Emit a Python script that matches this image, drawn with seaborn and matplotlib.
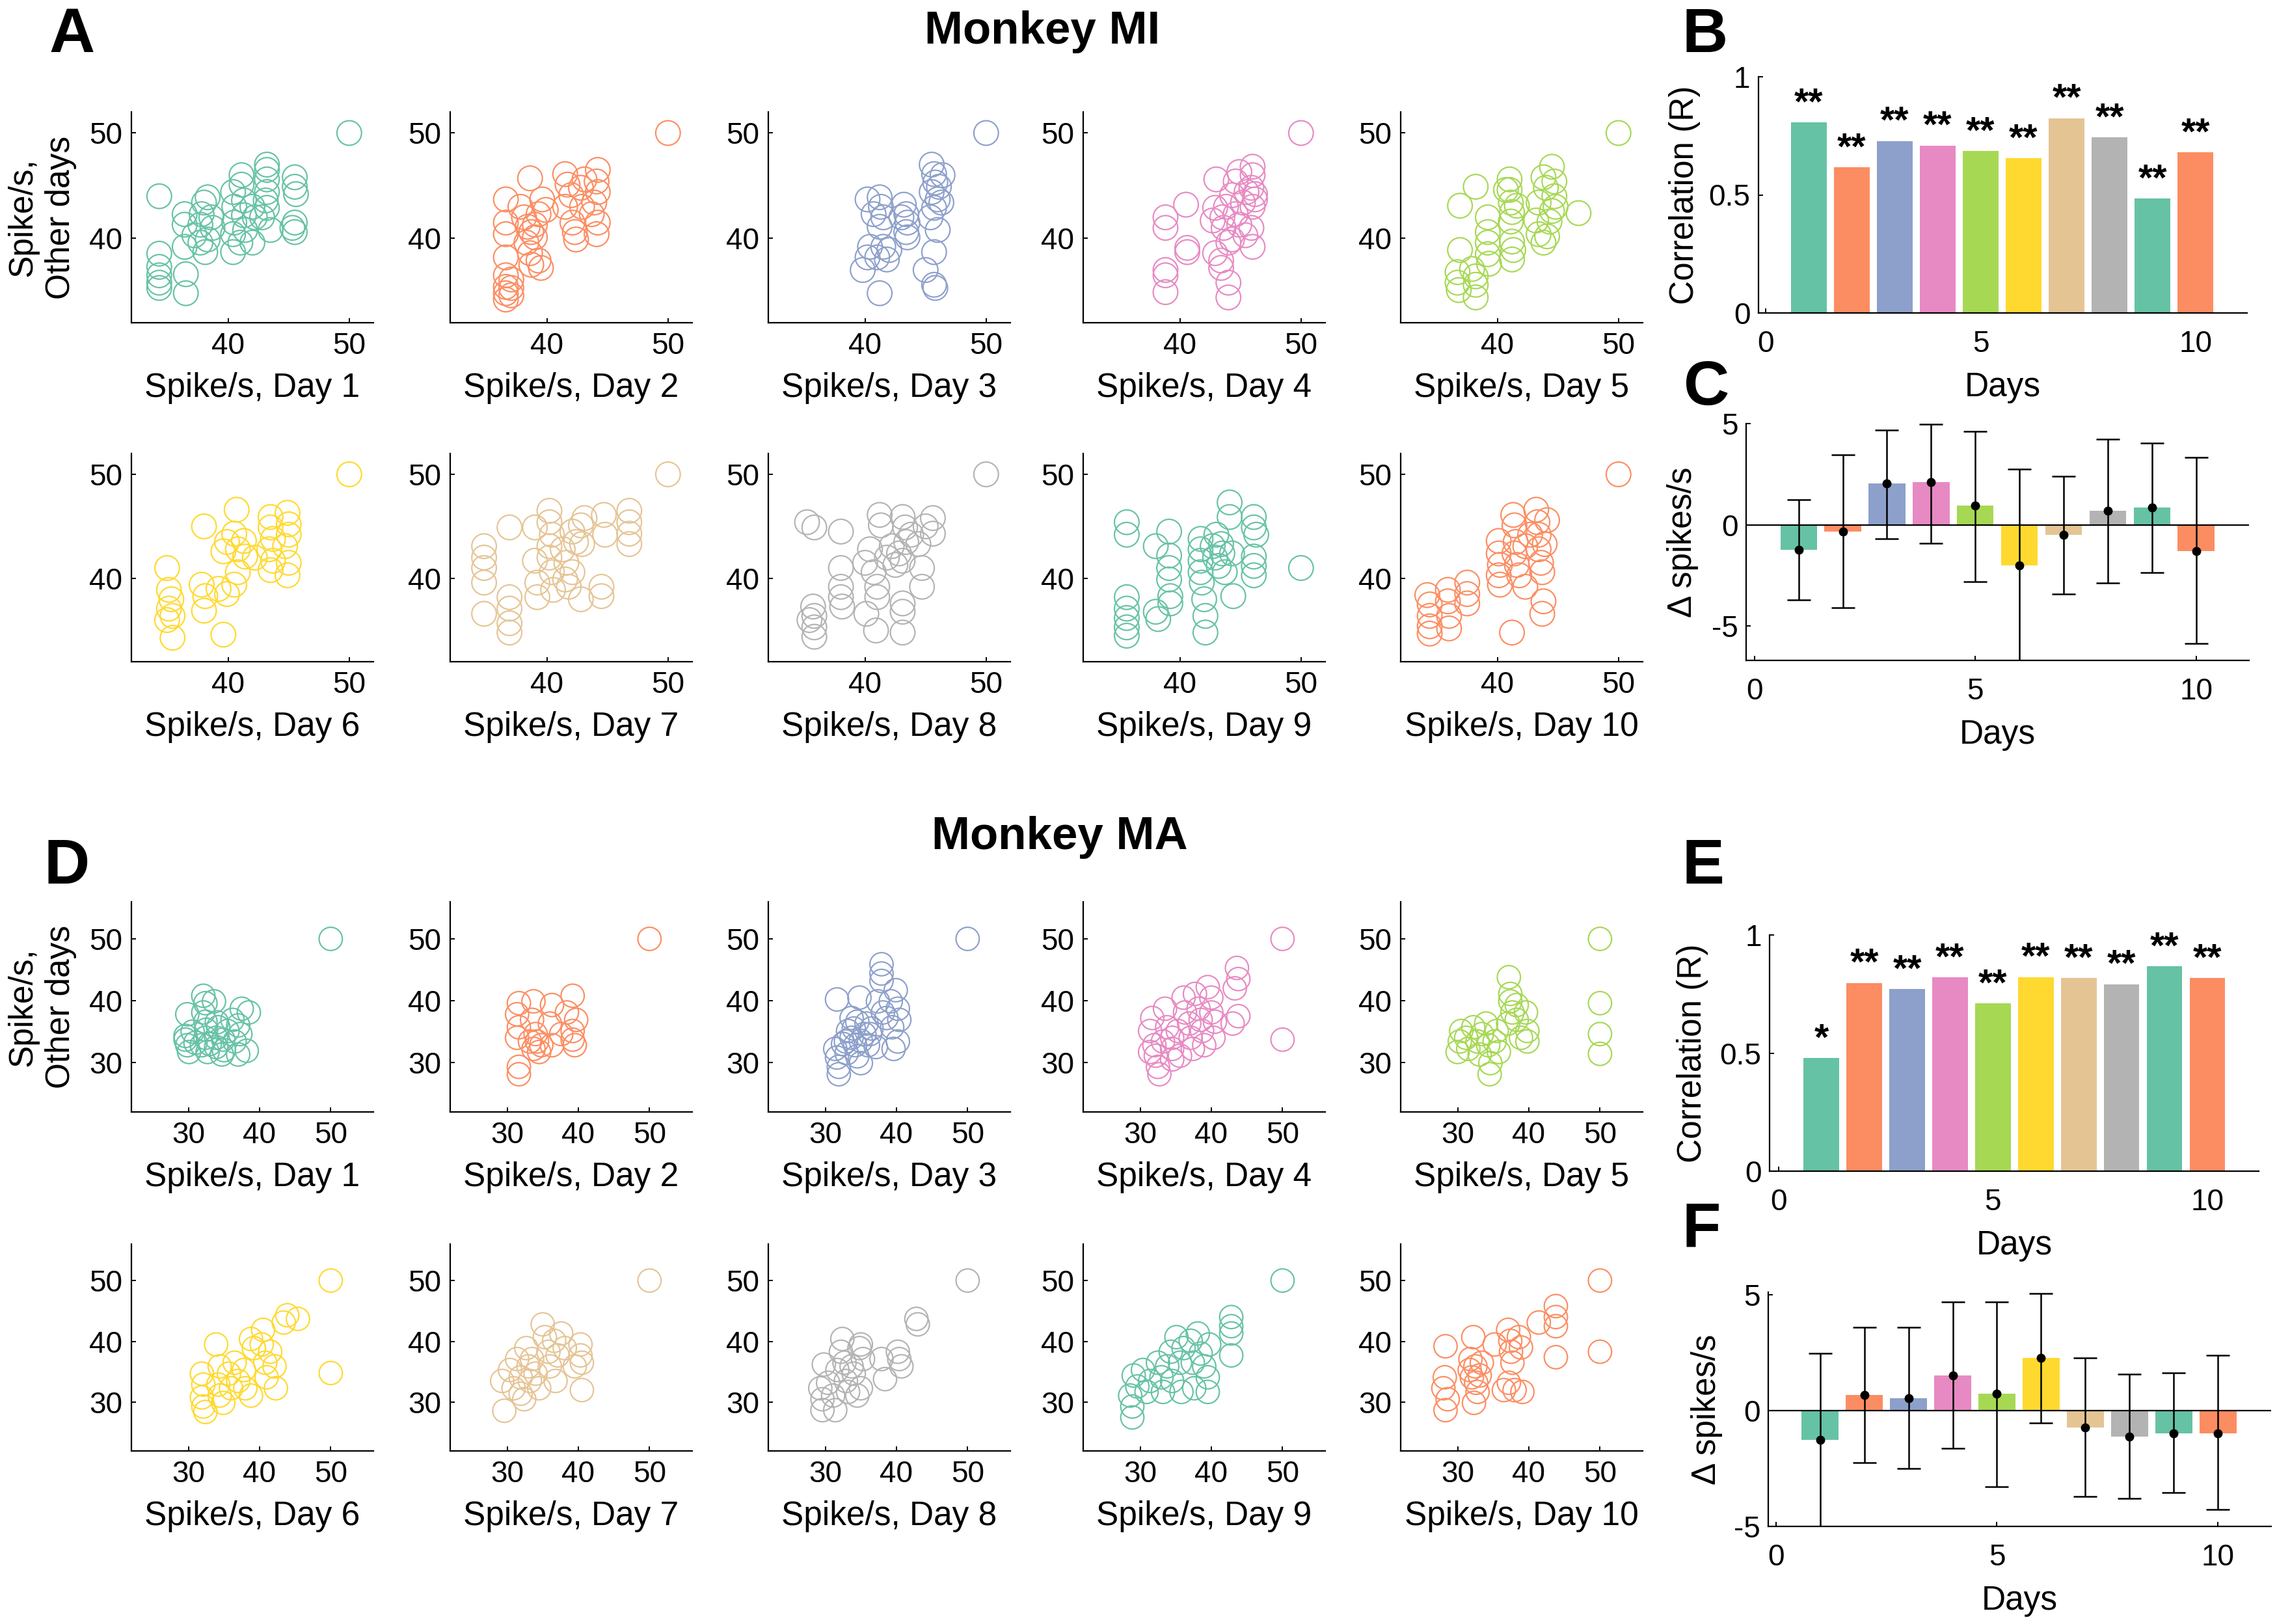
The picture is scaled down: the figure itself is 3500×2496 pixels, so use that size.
import numpy as np
import pandas as pd
import matplotlib
matplotlib.use("Agg")
import matplotlib.pyplot as plt
import seaborn as sns

# ------------------------------------------------------------------ data
DAYS = list(range(1, 11))

# Panel B / E : correlation per day
MI_R = [0.806, 0.617, 0.728, 0.709, 0.685, 0.656, 0.825, 0.744, 0.485, 0.680]
MI_SIG = ["**", "**", "**", "**", "**", "**", "**", "**", "**", "**"]
MA_R = [0.478, 0.797, 0.771, 0.820, 0.711, 0.822, 0.818, 0.792, 0.867, 0.818]
MA_SIG = ["*", "**", "**", "**", "**", "**", "**", "**", "**", "**"]

# Panel C / F : delta spikes/s (mean, lower and upper end of error bar)
MI_DELTA = [-1.22, -0.34, 2.03, 2.10, 0.95, -2.02, -0.50, 0.70, 0.85, -1.29]
MI_DELTA_LO = [-3.72, -4.10, -0.68, -0.90, -2.82, -6.80, -3.41, -2.87, -2.37, -5.87]
MI_DELTA_HI = [1.24, 3.45, 4.67, 4.97, 4.63, 2.75, 2.41, 4.22, 4.04, 3.34]
MA_DELTA = [-1.27, 0.67, 0.54, 1.52, 0.71, 2.28, -0.73, -1.12, -0.98, -0.98]
MA_DELTA_LO = [-5.00, -2.24, -2.49, -1.63, -3.29, -0.54, -3.72, -3.78, -3.55, -4.26]
MA_DELTA_HI = [2.47, 3.59, 3.59, 4.67, 4.67, 5.05, 2.28, 1.57, 1.61, 2.39]

# Panel A : Monkey MI scatter (x = spike/s on that day, y = other days)
mi_x1 = [34.3, 34.3, 34.3, 34.3, 34.3, 34.3, 36.5, 36.5, 36.4, 36.4, 36.4, 37.2, 37.7, 37.8, 38.0, 38.3, 37.7, 38.1, 38.6, 38.7, 38.3,
         40.4, 40.5, 40.5, 40.4, 40.4, 41.1, 41.1, 41.3, 41.3, 41.4, 41.0, 42.0, 42.0, 42.2,
         43.2, 43.2, 43.2, 43.2, 43.1, 43.2, 43.5, 42.8, 45.5, 45.5, 45.6, 45.5, 45.5, 45.3, 50]
mi_y1 = [44.0, 38.55, 37.3, 36.5, 35.8, 35.3, 36.6, 34.8, 42.3, 41.3, 39.2, 40.3, 41.3, 42.3, 43.4, 43.9, 39.6, 38.7, 42.0, 41.0, 39.9,
         44.4, 43.0, 41.5, 40.4, 38.7, 46.0, 45.1, 43.6, 42.2, 40.8, 39.6, 43.0, 39.6, 42.0,
         47.0, 46.5, 45.6, 44.4, 43.6, 42.9, 40.8, 42.0, 45.8, 44.9, 44.2, 41.5, 40.6, 41.0, 50]
mi_x2 = [36.6, 36.6, 36.6, 36.6, 36.6, 36.6, 36.6, 36.6, 37.05, 37.05, 37.05, 38.6,
         37.8, 38.1, 38.4, 38.7, 39.0, 39.3, 39.6, 38.3, 38.6, 39.3, 39.5, 38.7, 39.0, 39.9,
         41.5, 41.7, 42.0, 41.5, 42.1, 42.3, 42.4, 42.8, 42.9, 43.1, 44.2, 44.1, 44.2, 43.9, 44.2, 44.1, 43.7, 50]
mi_y2 = [43.7, 41.5, 40.4, 38.2, 36.5, 35.4, 34.8, 34.2, 36.1, 35.3, 34.6, 45.7,
         43.0, 42.0, 41.1, 40.6, 41.3, 42.3, 43.7, 39.6, 38.6, 37.9, 37.2, 37.5, 40.1, 42.7,
         46.1, 45.1, 44.1, 43.0, 41.5, 40.6, 39.9, 44.8, 43.0, 45.6, 46.5, 45.4, 44.4, 43.4, 41.5, 40.4, 42.3, 50]
mi_x3 = [39.8, 40.2, 40.4, 40.2, 40.7, 41.2, 41.2, 41.3, 41.5, 41.2, 41.8, 42.0, 41.5, 41.0,
         43.2, 43.4, 43.5, 43.4, 43.0, 43.5, 45.0, 45.5, 45.7, 45.8, 45.5, 46.0, 45.7, 45.4, 46.1, 46.3, 46.0, 45.7, 45.7, 45.8, 46.4, 50]
mi_y3 = [37.0, 38.2, 39.2, 43.7, 42.3, 34.8, 43.9, 43.0, 42.0, 41.1, 38.0, 38.9, 39.2, 38.2,
         43.2, 42.3, 41.5, 40.6, 42.0, 40.1, 37.0, 47.0, 46.1, 45.3, 44.4, 43.7, 42.9, 42.0, 44.9, 43.4, 40.8, 38.7, 35.6, 35.3, 46.0, 50]
mi_x4 = [38.8, 38.8, 38.8, 38.8, 38.8, 40.5, 40.6, 40.6, 43.0, 42.9, 42.7, 42.9, 43.4, 44.0, 44.0, 43.4,
         43.5, 43.6, 43.8, 44.3, 44.6, 44.9, 44.6, 44.9, 44.3, 44.0, 45.2, 45.5, 45.4,
         46.0, 46.0, 45.9, 46.2, 46.0, 45.9, 46.0, 46.2, 50]
mi_y4 = [42.0, 41.0, 37.0, 36.5, 34.9, 43.2, 39.1, 38.7, 45.6, 42.9, 41.7, 38.6, 37.9, 35.8, 34.4, 37.2,
         42.0, 41.0, 43.0, 44.1, 45.4, 46.3, 42.3, 41.3, 39.9, 39.6, 43.4, 44.4, 40.3,
         46.8, 46.0, 44.8, 43.7, 43.0, 41.0, 39.2, 44.2, 50]
mi_x5 = [36.9, 38.2, 36.9, 36.7, 36.7, 36.8, 38.2, 38.2, 38.2, 37.9, 39.2, 39.2, 39.2, 39.2, 39.3,
         41.0, 41.0, 41.1, 41.2, 41.1, 41.2, 41.3, 41.2, 40.7, 41.6,
         43.2, 43.4, 43.8, 44.1, 43.8, 44.0, 44.5, 44.7, 44.7, 44.5, 44.3, 44.8, 43.4, 46.7, 50]
mi_y5 = [43.1, 44.9, 38.9, 36.8, 35.8, 35.1, 36.4, 35.6, 34.4, 37.1, 42.0, 40.6, 39.6, 38.5, 37.6,
         45.6, 44.6, 43.4, 42.5, 41.6, 39.7, 38.9, 38.0, 44.6, 43.1,
         41.7, 40.4, 39.6, 40.2, 45.8, 44.8, 46.8, 45.4, 44.0, 42.6, 41.6, 43.0, 43.4, 42.4, 50]
mi_x6 = [34.95, 35.1, 35.3, 35.1, 35.4, 34.95, 35.4, 38.0, 37.8, 38.1, 38.0, 39.6,
         39.2, 39.9, 40.5, 40.8, 39.6, 39.9, 40.5, 40.7, 40.8, 41.3, 41.4, 42.2,
         43.5, 43.5, 43.7, 43.4, 43.7, 43.5, 44.9, 45.0, 45.0, 44.7, 45.0, 44.9, 50]
mi_y6 = [41.0, 38.9, 38.0, 37.1, 36.4, 36.0, 34.3, 45.0, 39.4, 38.3, 36.9, 34.6,
         39.0, 38.5, 39.4, 40.6, 42.6, 43.5, 44.3, 46.6, 42.8, 43.6, 42.1, 42.0,
         45.9, 44.9, 43.8, 42.8, 41.7, 40.8, 46.3, 45.2, 44.2, 43.1, 41.5, 40.3, 50]
mi_x7 = [34.8, 34.8, 34.8, 34.8, 34.8, 36.9, 36.9, 36.9, 36.9, 36.9, 39.0, 39.0, 39.2, 39.2,
         40.2, 40.2, 40.4, 40.2, 40.2, 40.4, 40.5, 41.3, 41.6, 42.1, 42.1, 42.4, 42.8, 42.9, 43.1, 41.8, 42.8, 41.5,
         44.7, 44.8, 44.5, 44.5, 46.8, 46.8, 46.8, 46.8, 50]
mi_y7 = [43.1, 42.0, 41.0, 39.6, 36.6, 44.9, 38.2, 37.1, 35.7, 34.8, 44.9, 41.7, 39.6, 38.2,
         46.5, 45.4, 44.2, 43.1, 42.0, 40.6, 38.9, 42.8, 41.5, 40.6, 44.5, 43.5, 45.1, 43.3, 45.8, 39.2, 38.0, 39.9,
         46.1, 44.2, 39.2, 38.3, 46.5, 45.4, 44.3, 43.3, 50]
mi_x8 = [35.2, 35.8, 38.0, 38.0, 38.0, 38.0, 38.1, 35.7, 35.8, 35.4, 35.8, 35.8,
         40.1, 40.9, 43.1, 43.1, 43.1, 41.0, 41.0, 40.7, 40.0, 40.4, 41.2, 41.3, 43.1, 43.3,
         42.2, 42.8, 43.1, 43.4, 43.8, 44.4, 42.5, 41.8, 44.7, 44.7, 45.6, 45.6, 45.0, 50]
mi_y8 = [45.4, 44.9, 44.5, 41.0, 39.2, 38.2, 37.3, 37.3, 36.4, 36.0, 35.3, 34.4,
         36.6, 35.0, 34.8, 36.8, 37.6, 38.2, 39.2, 40.6, 41.5, 42.8, 46.1, 45.1, 45.9, 44.9,
         43.1, 42.4, 41.7, 43.5, 44.2, 43.3, 41.3, 42.0, 39.2, 41.0, 45.8, 44.3, 45.0, 50]
mi_x9 = [35.6, 35.6, 35.6, 35.6, 35.6, 35.6, 35.6, 38.0, 38.0, 38.2, 39.1, 39.1, 39.1, 39.1, 39.2, 39.2,
         41.7, 41.7, 41.7, 41.7, 41.8, 42.0, 42.1, 42.1, 42.7, 42.9, 43.0, 43.4, 43.5, 43.2, 43.7, 44.1, 44.1, 44.3, 44.4,
         46.1, 46.1, 46.3, 46.1, 46.1, 46.1, 50]
mi_y9 = [45.4, 44.2, 38.2, 37.1, 36.2, 35.3, 34.5, 43.1, 36.8, 36.1, 44.5, 42.2, 41.0, 39.9, 38.3, 37.6,
         43.8, 42.8, 41.7, 40.6, 39.6, 38.0, 36.4, 34.8, 43.1, 42.0, 44.2, 43.3, 42.4, 41.2, 40.6, 47.3, 45.9, 42.4, 38.3,
         45.9, 44.9, 44.2, 42.1, 41.2, 40.3, 41.0]
mi_x10 = [34.4, 34.4, 34.4, 34.4, 34.2, 35.9, 35.9, 36.0, 36.0, 37.5, 37.5, 37.5, 40.1, 40.1, 40.2, 40.1, 40.2, 41.2,
          41.3, 41.4, 41.5, 41.4, 41.6, 41.8, 42.3, 42.3, 42.7,
          43.2, 43.3, 43.4, 43.4, 43.6, 43.7, 43.8, 43.7, 43.9, 44.1, 50]
mi_y10 = [37.5, 36.4, 35.4, 34.7, 38.4, 38.9, 37.8, 36.4, 35.2, 39.6, 38.5, 37.6, 43.6, 42.4, 41.3, 40.3, 39.4, 34.8,
          46.1, 45.1, 43.5, 42.4, 41.3, 40.3, 39.2, 43.1, 44.2,
          46.6, 45.4, 44.2, 42.8, 41.5, 40.6, 37.8, 36.6, 43.3, 45.6, 50]

# Panel D : Monkey MA scatter
ma_x1 = [29.85, 29.6, 29.85, 30.1, 29.6, 32.1, 32.4, 32.1, 32.4, 31.9, 32.7, 32.4, 33.6, 33.9, 33.9, 34.7, 34.9, 34.2, 35.5,
         36.5, 37.0, 37.3, 37.5, 38.5, 38.2, 37.0, 36.2, 31.0, 33.0, 34.0, 35.0, 32.5, 30.6, 50]
ma_y1 = [37.8, 34.3, 32.8, 31.7, 33.7, 40.8, 39.6, 38.1, 36.6, 32.8, 31.7, 34.0, 39.9, 34.0, 32.5, 31.3, 33.7, 35.7, 35.1,
         33.4, 31.3, 34.6, 38.7, 38.1, 31.9, 36.0, 36.9, 33.2, 33.0, 36.5, 32.0, 35.3, 35.0, 50]
ma_x2 = [31.65, 31.4, 31.65, 31.4, 31.65, 31.65, 33.7, 33.5, 34.0, 34.2, 33.7, 34.5, 34.8, 33.2,
         36.3, 36.0, 36.3, 37.6, 38.4, 39.2, 39.2, 39.5, 39.2, 39.7, 50]
ma_y2 = [39.6, 37.8, 35.7, 34.0, 29.3, 28.1, 39.9, 36.9, 34.6, 33.4, 32.2, 31.7, 32.8, 33.4,
         39.3, 36.3, 32.8, 34.6, 38.1, 35.1, 33.7, 32.8, 40.8, 36.9, 50]
ma_x3 = [31.65, 31.4, 31.65, 31.9, 31.9, 33.2, 33.7, 34.2, 34.5, 34.8, 35.0, 35.5, 36.0, 33.7, 32.9, 35.8,
         37.9, 37.9, 37.9, 37.4, 38.1, 38.6, 39.2, 39.4, 39.6, 39.9, 40.2, 40.4, 40.2, 37.1, 36.3,
         33.0, 34.0, 35.0, 32.5, 36.5, 34.5, 50]
ma_y3 = [40.2, 32.2, 30.8, 29.3, 28.1, 35.1, 34.0, 32.8, 36.6, 40.5, 29.9, 34.6, 32.8, 37.2, 33.4, 36.3,
         45.9, 44.4, 43.2, 39.9, 38.1, 37.2, 39.9, 35.7, 32.2, 41.7, 38.7, 36.9, 33.4, 32.5, 34.6,
         31.5, 35.5, 33.5, 33.0, 35.5, 31.0, 50]
ma_x4 = [31.7, 31.4, 32.0, 32.2, 32.5, 32.7, 31.4, 33.5, 33.8, 34.5, 34.5, 35.3, 35.6, 34.5, 33.2,
         36.1, 36.3, 36.9, 37.1, 37.7, 38.2, 38.5, 38.7, 39.0, 39.5, 40.0, 40.0, 40.5, 40.3, 37.4,
         43.6, 43.8, 43.3, 43.8, 43.0, 50, 50]
ma_y4 = [37.2, 35.1, 32.8, 31.1, 29.3, 28.1, 31.7, 38.7, 35.7, 34.0, 32.2, 35.1, 31.1, 30.5, 33.4,
         40.5, 38.1, 36.3, 34.0, 41.1, 38.7, 36.9, 35.1, 32.8, 42.2, 40.5, 38.1, 36.6, 34.0, 32.2,
         45.3, 43.5, 42.0, 37.5, 36.3, 50, 33.7]
ma_x5 = [30.3, 30.0, 30.5, 31.2, 31.5, 32.2, 32.8, 33.1, 33.4, 34.0, 34.3, 34.5, 34.6, 35.2, 35.5, 35.8,
         37.2, 37.4, 37.4, 37.7, 37.1, 38.3, 38.9, 39.6, 39.8, 39.8, 38.3, 50, 50, 50, 50]
ma_y5 = [33.4, 31.7, 35.1, 34.0, 32.2, 35.7, 33.4, 31.3, 34.6, 36.3, 32.8, 28.1, 29.9, 33.4, 35.1, 31.7,
         43.8, 41.1, 39.9, 38.1, 36.3, 36.9, 34.0, 38.1, 35.1, 33.4, 39.3, 50, 39.6, 34.6, 31.4]
ma_x6 = [31.9, 32.1, 31.9, 32.1, 32.4, 33.9, 34.4, 34.2, 34.4, 34.9, 35.7, 36.0, 36.5, 37.0, 37.8, 38.0, 38.8, 38.8,
         39.2, 40.3, 40.8, 41.0, 41.5, 42.1, 42.3, 40.5, 43.4, 43.9, 45.4, 50, 50]
ma_y6 = [34.7, 32.9, 30.8, 29.3, 28.4, 39.5, 35.9, 32.9, 31.1, 29.9, 34.7, 32.3, 36.5, 33.5, 35.3, 32.3, 31.1, 40.4,
         38.9, 39.5, 36.5, 34.1, 38.3, 35.9, 32.3, 41.9, 43.1, 44.3, 43.7, 50, 34.8]
ma_x7 = [29.6, 29.3, 30.4, 30.9, 31.4, 31.9, 32.4, 32.7, 33.0, 33.2, 33.5, 34.0, 34.5, 31.9,
         35.0, 35.3, 35.8, 36.0, 36.6, 36.8, 37.1, 37.6, 38.1, 40.3, 40.3, 40.5, 40.5, 39.5, 50]
ma_y7 = [28.6, 33.5, 35.3, 32.3, 37.1, 34.1, 30.5, 38.9, 35.9, 33.5, 37.1, 34.7, 32.3, 31.4,
         42.8, 40.7, 38.3, 35.9, 40.1, 33.5, 37.7, 41.3, 38.9, 39.5, 37.7, 36.5, 32.0, 35.9, 50]
ma_x8 = [29.3, 29.6, 29.6, 29.8, 30.4, 31.1, 31.4, 31.7, 32.2, 32.4, 32.7, 32.9, 33.2, 33.7, 34.0, 34.8, 35.0, 35.3, 35.0, 34.5,
         37.9, 38.4, 40.2, 40.4, 40.7, 42.8, 43.0, 50]
ma_y8 = [32.3, 30.5, 28.7, 36.2, 33.2, 31.1, 28.7, 35.3, 38.3, 40.4, 36.5, 33.5, 31.7, 35.9, 34.7, 38.9, 39.5, 37.1, 32.3, 31.1,
         37.1, 33.8, 38.3, 37.1, 35.9, 43.7, 42.8, 50]
ma_x9 = [28.6, 28.9, 28.9, 29.1, 29.6, 30.4, 30.9, 31.4, 32.5, 33.0, 33.2, 33.8, 34.3, 34.5, 35.1, 35.6, 35.8, 36.1,
         37.1, 37.4, 37.6, 38.1, 38.5, 39.0, 39.5, 39.7, 39.5, 42.8, 42.8, 42.8, 42.8, 50]
ma_y9 = [31.1, 29.3, 27.5, 34.4, 32.6, 35.3, 31.7, 33.5, 36.5, 34.1, 31.7, 35.9, 38.3, 33.5, 40.7, 36.5, 31.7, 38.9,
         40.1, 36.5, 32.3, 41.3, 38.0, 35.9, 34.1, 39.5, 31.7, 44.0, 42.5, 41.3, 37.7, 50]
ma_x10 = [28.3, 28.2, 28.0, 28.3, 28.6, 32.2, 31.8, 31.7, 32.0, 32.5, 32.6, 32.8, 32.3, 33.1, 33.4,
          35.2, 37.1, 37.4, 37.5, 37.7, 37.2, 38.0, 38.6, 38.9, 36.5, 39.1, 41.4, 43.8, 43.8, 43.8, 43.8, 50, 50]
ma_y10 = [39.2, 34.1, 32.3, 28.7, 30.5, 40.7, 37.1, 35.3, 34.1, 35.9, 33.2, 31.7, 29.9, 34.4, 36.5,
          39.5, 41.9, 40.1, 38.3, 36.5, 33.2, 32.0, 40.7, 39.0, 32.0, 31.7, 43.1, 45.8, 44.0, 42.5, 37.4, 50, 38.3]

MI_TICKS = [40, 50]
MA_TICKS = [30, 40, 50]
BAR_XTICKS = [0, 5, 10]

# ------------------------------------------------------------------ style
sns.set_theme(style="ticks")
plt.rcParams["font.family"] = ["Liberation Sans", "DejaVu Sans"]
plt.rcParams["axes.unicode_minus"] = False
for k in ["text.color", "axes.labelcolor", "xtick.color", "ytick.color", "axes.edgecolor"]:
    plt.rcParams[k] = "black"

W, H = 3500, 2496
fig = plt.figure(figsize=(35, 24.96), dpi=100)
fig.patch.set_facecolor("white")

SET2 = sns.color_palette("Set2", 8)
DAY_COLORS = [SET2[i % 8] for i in range(10)]

TICK_FS = 33
LABEL_FS = 37


def px_axes(x0, y0, x1, y1):
    return fig.add_axes([x0 / W, 1 - y1 / H, (x1 - x0) / W, (y1 - y0) / H])


def style_common(ax):
    sns.despine(ax=ax)
    for s in ["left", "bottom"]:
        ax.spines[s].set_linewidth(1.6)
        ax.spines[s].set_color("black")
    ax.tick_params(direction="in", length=5, width=1.4, labelsize=TICK_FS, colors="black")
    ax.set_facecolor("white")


COL_LEFT = [202, 692, 1181, 1665, 2153]
COL_W = 372
MI_ROWS = [(172, 496), (697, 1017)]
MA_ROWS = [(1386, 1709), (1912, 2230)]

MI_X = [mi_x1, mi_x2, mi_x3, mi_x4, mi_x5, mi_x6, mi_x7, mi_x8, mi_x9, mi_x10]
MI_Y = [mi_y1, mi_y2, mi_y3, mi_y4, mi_y5, mi_y6, mi_y7, mi_y8, mi_y9, mi_y10]
MA_X = [ma_x1, ma_x2, ma_x3, ma_x4, ma_x5, ma_x6, ma_x7, ma_x8, ma_x9, ma_x10]
MA_Y = [ma_y1, ma_y2, ma_y3, ma_y4, ma_y5, ma_y6, ma_y7, ma_y8, ma_y9, ma_y10]


def scatter_block(xs, ys, rows, lim, ticks, size):
    for i in range(10):
        r, c = divmod(i, 5)
        top, bot = rows[r]
        ax = px_axes(COL_LEFT[c], top, COL_LEFT[c] + COL_W, bot)
        df = pd.DataFrame({"x": xs[i], "y": ys[i]})
        sns.scatterplot(data=df, x="x", y="y", ax=ax, s=size, facecolor="none",
                        edgecolor=DAY_COLORS[i], linewidth=1.55, legend=False, clip_on=False)
        ax.set_xlim(lim)
        ax.set_ylim(lim)
        ax.set_xticks(ticks)
        ax.set_yticks(ticks)
        style_common(ax)
        ax.tick_params(axis="x", pad=10)
        ax.tick_params(axis="y", pad=10)
        ax.set_xlabel(f"Spike/s, Day {i + 1}", fontsize=LABEL_FS, labelpad=13)
        if i == 0:
            ax.set_ylabel("Spike/s,\nOther days", fontsize=LABEL_FS, labelpad=14, linespacing=1.25)
        else:
            ax.set_ylabel("")


scatter_block(MI_X, MI_Y, MI_ROWS, (32, 52), MI_TICKS, 740)
scatter_block(MA_X, MA_Y, MA_ROWS, (22, 56), MA_TICKS, 660)


def bar_axes(box, values, xlim, ylim):
    ax = px_axes(*box)
    labs = [str(d) for d in DAYS]
    df = pd.DataFrame({"day": DAYS, "val": values, "lab": labs})
    sns.barplot(data=df, x="day", y="val", hue="lab", palette=dict(zip(labs, DAY_COLORS)),
                native_scale=True, width=0.83, dodge=False, legend=False, errorbar=None,
                saturation=1, linewidth=0, ax=ax, orient="v")
    ax.set_xlim(xlim)
    ax.set_ylim(ylim)
    ax.set_xticks(BAR_XTICKS)
    ax.set_xticklabels([str(t) for t in BAR_XTICKS])
    style_common(ax)
    ax.tick_params(axis="x", pad=19)
    ax.tick_params(axis="y", pad=9)
    ax.set_xlabel("Days", fontsize=LABEL_FS, labelpad=14)
    return ax


def corr_panel(box, R, SIG, xlim, ylpad):
    ax = bar_axes(box, R, xlim, (0, 1))
    ax.set_yticks([0, 0.5, 1])
    ax.set_yticklabels(["0", "0.5", "1"])
    ax.set_ylabel("Correlation (R)", fontsize=LABEL_FS, labelpad=ylpad)
    for d, r, s in zip(DAYS, R, SIG):
        ax.text(d, r + 0.035, s, ha="center", va="baseline", fontsize=41,
                fontweight="bold", color="black")
    return ax


def delta_panel(box, mean, lo, hi, xlim, ylim, ylpad):
    ax = bar_axes(box, mean, xlim, ylim)
    ax.axhline(0, color="black", lw=1.6, zorder=3)
    m = np.array(mean)
    yerr = [m - np.array(lo), np.array(hi) - m]
    ax.errorbar(DAYS, mean, yerr=yerr, fmt="o", color="black", ms=9, capsize=12.7,
                elinewidth=1.8, capthick=1.8, zorder=5)
    ax.set_yticks([-5, 0, 5])
    ax.set_yticklabels(["-5", "0", "5"])
    ax.set_ylabel("\u0394 spikes/s", fontsize=LABEL_FS, labelpad=ylpad)
    return ax


corr_panel((2703, 118, 3454, 481), MI_R, MI_SIG, (-0.17, 11.2), 9)
delta_panel((2684, 651, 3457, 1015), MI_DELTA, MI_DELTA_LO, MI_DELTA_HI, (-0.19, 11.2), (-6.7, 5), 14)
corr_panel((2720, 1437, 3472, 1800), MA_R, MA_SIG, (-0.21, 11.2), 13)
delta_panel((2718, 1986, 3491, 2346), MA_DELTA, MA_DELTA_LO, MA_DELTA_HI, (-0.17, 11.2), (-5, 5.1), 12)

# ------------------------------------------------------------------ titles / panel letters
def ftext(x, y, s, **kw):
    fig.text(x / W, 1 - y / H, s, **kw)


ftext(1602, 67, "Monkey MI", ha="center", va="baseline", fontsize=51, fontweight="bold")
ftext(1629, 1305, "Monkey MA", ha="center", va="baseline", fontsize=51, fontweight="bold")
LET = dict(ha="left", va="baseline", fontsize=70, fontweight="bold")
ftext(76, 80, "A", **LET)
ftext(2586, 80, "B", **LET)
ftext(2588, 622, "C", **LET)
ftext(67, 1358, "D", **LET)
ftext(2585, 1358, "E", **LET)
ftext(2585, 1916, "F", **LET)

fig.savefig("out.png", dpi=100, facecolor="white")
